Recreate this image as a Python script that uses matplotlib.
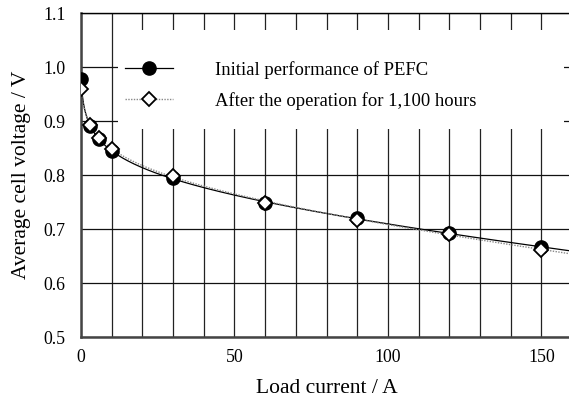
import numpy as np
import matplotlib
matplotlib.use("Agg")
import matplotlib.pyplot as plt
from matplotlib.patches import Rectangle

current = [0, 3, 6, 10, 30, 60, 90, 120, 150]
v_initial = [0.977, 0.890, 0.867, 0.844, 0.794, 0.748, 0.720, 0.693, 0.666]
v_after = [0.960, 0.893, 0.869, 0.849, 0.799, 0.749, 0.717, 0.691, 0.662]
labels = ["Initial performance of PEFC", "After the operation for 1,100 hours"]
xticks = [0, 50, 100, 150]
yticks = [0.5, 0.6, 0.7, 0.8, 0.9, 1.0, 1.1]

plt.rcParams['font.family'] = ['Liberation Serif', 'DejaVu Serif']


def fit_curve(x, y, xs):
    x = np.asarray(x, float)
    y = np.asarray(y, float)
    best = None
    for c in np.linspace(0.05, 5, 200):
        A = np.column_stack([np.ones_like(x), np.log(x + c), x])
        coef, *_ = np.linalg.lstsq(A, y, rcond=None)
        r = np.sum((A @ coef - y) ** 2)
        if best is None or r < best[0]:
            best = (r, c, coef)
    _, c, coef = best
    return coef[0] + coef[1] * np.log(xs + c) + coef[2] * xs


fig = plt.figure(figsize=(5.69, 4.01), dpi=100)
ax = fig.add_axes([81 / 569, 1 - 337 / 401, 491 / 569, 324 / 401])
ax.set_xlim(0, 160)
ax.set_ylim(0.5, 1.1)

# grid
ax.set_xticks(np.arange(0, 161, 10), minor=True)
ax.set_xticks(xticks)
ax.set_yticks(yticks)
ax.set_yticklabels([f"{t:.1f}" for t in yticks])
ax.grid(True, which='both', axis='x', color='#222222', lw=0.9)
ax.grid(True, which='major', axis='y', color='#111111', lw=0.9)
ax.set_axisbelow(True)
ax.tick_params(which='both', length=0, labelsize=12.8)
ax.tick_params(axis='x', pad=9)
ax.tick_params(axis='y', pad=11)

for s in ['left', 'bottom']:
    ax.spines[s].set_linewidth(1.8)
    ax.spines[s].set_color('#444444')
ax.spines['top'].set_linewidth(1.0)
ax.spines['right'].set_visible(False)

# white box behind legend
ax.add_patch(Rectangle((0.075, 0.642), 0.909, 0.306, transform=ax.transAxes,
                       facecolor='white', edgecolor='none', zorder=1))

xs = np.linspace(0, 160, 400)
ax.plot(xs, fit_curve(current, v_initial, xs), color='black', lw=0.9, zorder=2)
ax.plot(xs, fit_curve(current, v_after, xs), color='#888888', lw=1.0,
        ls=(0, (1, 1)), zorder=2)

ax.plot(current, v_initial, 'o', color='black', ms=9.5, zorder=3)
ax.plot(current, v_after, 'D', mfc='white', mec='black', mew=1.3, ms=7.5, zorder=4)

h1, = ax.plot([], [], color='black', lw=0.9, marker='o', ms=9.5)
h2, = ax.plot([], [], color='#888888', lw=1.0, ls=(0, (1, 1)), marker='D',
              mfc='white', mec='black', mew=1.3, ms=7.5)
ax.legend([h1, h2], labels, loc='upper left', bbox_to_anchor=(0.089, 0.852),
          frameon=False, fontsize=13.4, handlelength=2.58, handletextpad=2.26,
          labelspacing=0.69, borderpad=0, borderaxespad=0)

ax.set_xlabel("Load current / A", fontsize=15.5, labelpad=9)
ax.set_ylabel("Average cell voltage / V", fontsize=15.5, labelpad=9)

fig.savefig("out.png", dpi=100)
